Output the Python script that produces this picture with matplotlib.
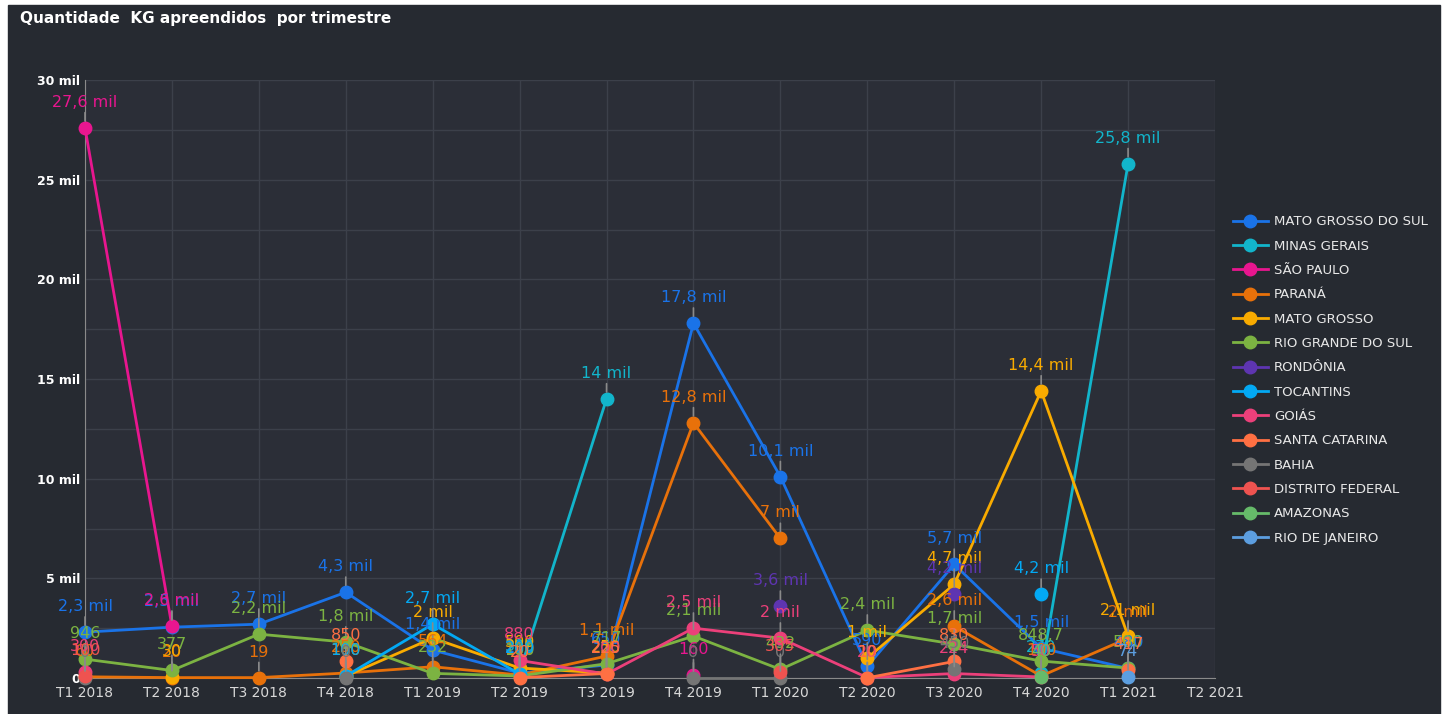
import numpy as np
import matplotlib
matplotlib.use('Agg')
import matplotlib.pyplot as plt
from matplotlib.ticker import FuncFormatter, MultipleLocator

nan = np.nan

quarters = ['T1 2018', 'T2 2018', 'T3 2018', 'T4 2018', 'T1 2019', 'T2 2019', 'T3 2019',
            'T4 2019', 'T1 2020', 'T2 2020', 'T3 2020', 'T4 2020', 'T1 2021', 'T2 2021']

mato_grosso_do_sul = [2300, 2550, 2700, 4300, 1400, 250, 650, 17800, 10100, 590, 5700, 1500, 480]
minas_gerais = [nan, nan, nan, nan, nan, 300, 14000, nan, nan, nan, nan, 270, 25800]
sao_paulo = [27600, 2600, nan, nan, nan, nan, nan, 160, nan, nan, nan, nan, nan]
parana = [60, 20, 19, 250, 564, 150, 1100, 12800, 7000, nan, 2600, 100, 2000]
mato_grosso = [nan, 30, nan, 100, 2000, 500, 250, nan, nan, 1000, 4700, 14400, 2100]
rio_grande_do_sul = [946, 377, 2200, 1800, 232, 100, 717, 2100, 432, 2400, 1700, 848.7, 500]
rondonia = [nan, nan, nan, nan, nan, nan, nan, nan, 3600, nan, 4200, nan, nan]
tocantins = [nan, nan, nan, 100, 2700, 200, nan, nan, nan, nan, nan, 4200, nan]
goias = [300, nan, nan, nan, nan, 880, 200, 2500, 2000, 20, 224, 50, nan]
santa_catarina = [nan, nan, nan, 850, nan, 20, 225, nan, nan, 10, 830, nan, 417]
bahia = [0, nan, nan, 0, nan, nan, nan, 0, 0, nan, 450, nan, nan]
distrito_federal = [100, nan, nan, nan, nan, nan, nan, nan, 305, nan, nan, nan, nan]
amazonas = [nan, nan, nan, nan, nan, nan, nan, nan, nan, nan, nan, 40, nan]
rio_de_janeiro = [nan, nan, nan, nan, nan, nan, nan, nan, nan, nan, nan, nan, 74]

series = [
    ('MATO GROSSO DO SUL', mato_grosso_do_sul, '#1a73e8'),
    ('MINAS GERAIS', minas_gerais, '#12b5cb'),
    ('SÃO PAULO', sao_paulo, '#e8168f'),
    ('PARANÁ', parana, '#e8710a'),
    ('MATO GROSSO', mato_grosso, '#f9ab00'),
    ('RIO GRANDE DO SUL', rio_grande_do_sul, '#7cb342'),
    ('RONDÔNIA', rondonia, '#5e35b1'),
    ('TOCANTINS', tocantins, '#03a9f4'),
    ('GOIÁS', goias, '#ec407a'),
    ('SANTA CATARINA', santa_catarina, '#ff7043'),
    ('BAHIA', bahia, '#757575'),
    ('DISTRITO FEDERAL', distrito_federal, '#ef5350'),
    ('AMAZONAS', amazonas, '#66bb6a'),
    ('RIO DE JANEIRO', rio_de_janeiro, '#5c9ee0'),
]


def fmt_label(v):
    if v >= 1000:
        s = ('%.1f' % (v / 1000)).replace('.', ',')
        if s.endswith(',0'):
            s = s[:-2]
        return s + ' mil'
    if v == int(v):
        return '%d' % v
    return ('%.1f' % v).replace('.', ',')


def fmt_tick(v, pos):
    if v == 0:
        return '0'
    return '%d mil' % (v / 1000)


bg = '#262a31'
fig = plt.figure(figsize=(14.48, 7.14), dpi=100, facecolor='white')
# dark panel behind everything
fig.patches.append(plt.Rectangle((8 / 1448, 0), 1432 / 1448, 1 - 5 / 714,
                                 transform=fig.transFigure, color=bg, zorder=-10))
ax = fig.add_axes([85 / 1448, 1 - 678 / 714, (1215 - 85) / 1448, (678 - 80) / 714])
ax.set_facecolor('#2b2e37')

x = np.arange(len(quarters))
for name, vals, col in series:
    v = np.array(vals, dtype=float)
    xs = x[:len(v)]
    ax.plot(xs, v, '-o', color=col, linewidth=2, markersize=9, label=name, zorder=3,
            clip_on=False)
    for xi, yi in zip(xs, v):
        if np.isnan(yi):
            continue
        ax.annotate(fmt_label(yi), (xi, yi), xytext=(0, 18), textcoords='offset pixels',
                    ha='center', va='bottom', color=col, fontsize=11.5, zorder=4,
                    arrowprops=dict(arrowstyle='-', color='#8a8a8a', lw=1.2,
                                    shrinkA=0, shrinkB=5))

ax.set_xlim(0, len(quarters) - 1)
ax.set_ylim(0, 30000)
ax.set_xticks(x)
ax.set_xticklabels(quarters, color='#d8d8d8', fontsize=10)
ax.yaxis.set_major_locator(MultipleLocator(5000))
ax.yaxis.set_minor_locator(MultipleLocator(2500))
ax.yaxis.set_major_formatter(FuncFormatter(fmt_tick))
ax.tick_params(axis='y', colors='white', labelsize=9, length=0, which='both')
ax.tick_params(axis='x', length=0, pad=6)
for lab in ax.get_yticklabels():
    lab.set_fontweight('bold')
ax.grid(True, which='both', color='#3c404a', linewidth=1)
for s in ['top', 'right']:
    ax.spines[s].set_visible(False)
ax.spines['left'].set_color('#8a8a8a')
ax.spines['bottom'].set_color('#8a8a8a')
ax.set_axisbelow(True)

fig.text(20 / 1448, 1 - 19 / 714, 'Quantidade  KG apreendidos  por trimestre', color='white',
         fontsize=11, fontweight='bold', va='center', ha='left')

leg = fig.legend(loc='upper left', bbox_to_anchor=(1228 / 1448, 1 - 210 / 714), frameon=False,
                 fontsize=9.5, labelspacing=0.86, handlelength=2.6, handletextpad=0.5,
                 borderaxespad=0)
for t in leg.get_texts():
    t.set_color('#e8e8e8')

fig.savefig('out.png', dpi=100, facecolor=fig.get_facecolor())
